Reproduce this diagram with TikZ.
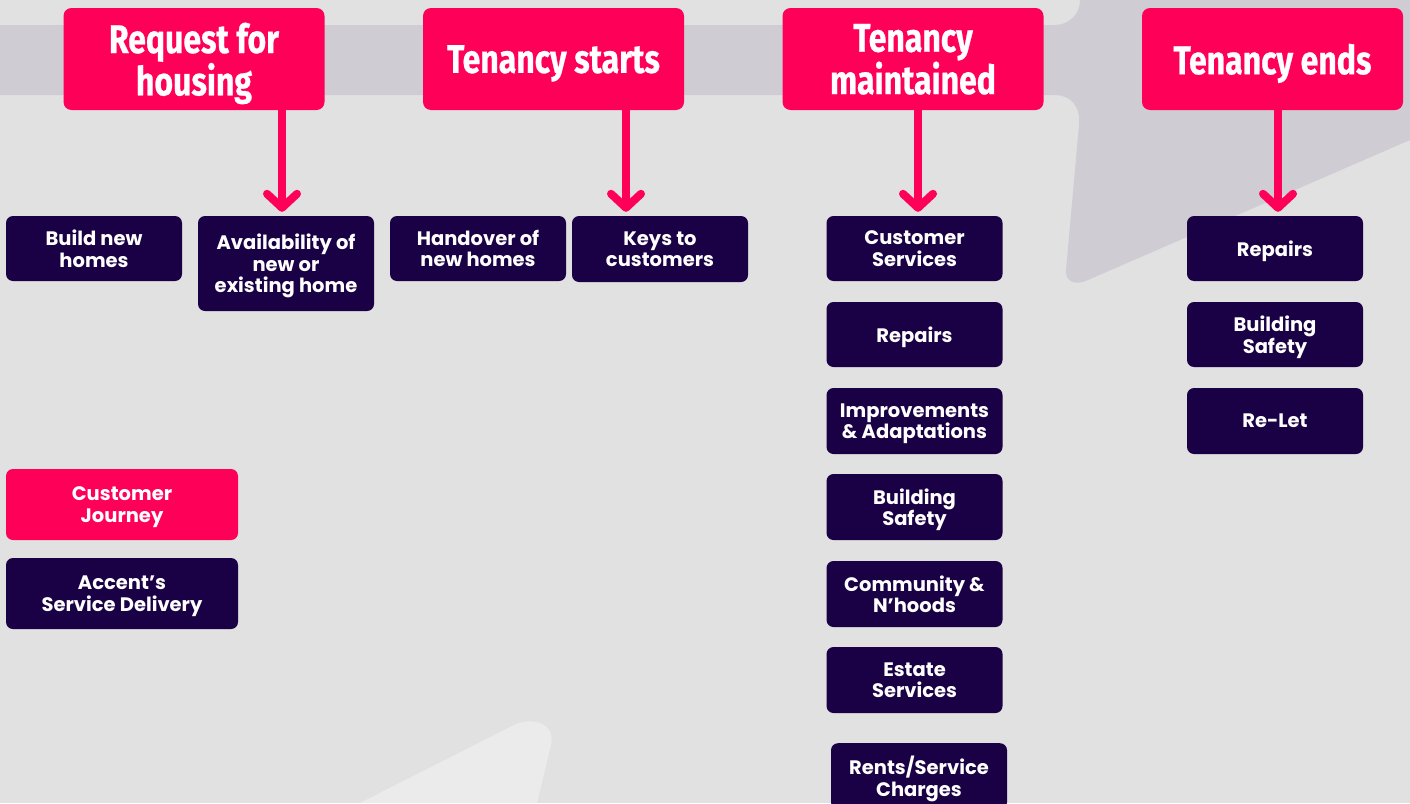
\documentclass[tikz,border=0pt]{standalone}
\usepackage{fontspec}
\usetikzlibrary{arrows.meta}
\newfontfamily\headfont[FakeStretch=0.8,FakeBold=0.6]{Fira Sans}
\newfontfamily\boxfont{Poppins}
\definecolor{bgmain}{HTML}{E1E1E1}
\definecolor{bgband}{HTML}{CFCDD3}
\definecolor{bglight}{HTML}{EBEBEB}
\definecolor{hotpink}{HTML}{FF0058}
\definecolor{navy}{HTML}{1A0044}
\tikzset{
  stagebox/.style={rectangle, rounded corners=8pt, fill=hotpink, text=white,
    minimum width=261pt, minimum height=102pt, inner sep=0pt, align=center,
    text depth=0pt,
    font=\headfont\bfseries\fontsize{40}{37}\selectfont},
  svcbox/.style={rectangle, rounded corners=7pt, fill=navy, text=white,
    minimum width=176pt, minimum height=65pt, inner sep=0pt, align=center,
    text depth=0pt,
    font=\boxfont\bfseries\fontsize{19.5}{21.5}\selectfont},
  keybox/.style={svcbox, minimum width=232pt, minimum height=71pt},
  flow/.style={draw=hotpink, line width=8pt, shorten >=4pt,
    -{Straight Barb[length=14pt, width=30pt, round]}},
}
\begin{document}
\begin{tikzpicture}[x=1pt, y=-1pt]
% canvas
\fill[bgmain] (0,0) rectangle (1410,803);
\path[use as bounding box] (0,0) rectangle (1410,803);
% grey band behind the stage headers, joined to the wedge on the right
\fill[bgband] (0,25) -- (1055,25) .. controls (1069,25) and (1080,14) .. (1080,0)
  -- (1410,0) -- (1410,140) -- (1088,280)
  .. controls (1076,286) and (1065,282) .. (1066,270)
  -- (1079,125) .. controls (1081,106) and (1070,95) .. (1055,95)
  -- (0,95) -- cycle;
% pale wedge at the bottom
\fill[bglight] (360,803) -- (512,726) .. controls (530,716) and (556,722) .. (551,745)
  -- (537,803) -- cycle;

% stage headers
\node[stagebox] (req)  at (194,59)    {Request for\\housing};
\node[stagebox] (tst)  at (553.5,59)  {Tenancy starts};
\node[stagebox] (tmn)  at (913,59)    {Tenancy\\maintained};
\node[stagebox] (tend) at (1272.5,59) {Tenancy ends};

% request for housing
\node[svcbox] (build) at (94,248.5) {Build new\\homes};
\node[svcbox, minimum height=95pt] (avail) at (286,263.5) {Availability of\\new or\\existing home};

% tenancy starts
\node[svcbox] (hand) at (478,248.5) {Handover of\\new homes};
\node[svcbox, minimum height=66pt] (keys) at (660,249) {Keys to\\customers};

% tenancy maintained
\node[svcbox] (cserv) at (914.5,248.5) {Customer\\Services};
\node[svcbox] (rep)   at (914.5,334.5) {Repairs};
\node[svcbox, minimum height=66pt] (impr)  at (914.5,421) {Improvements\\\& Adaptations};
\node[svcbox, minimum height=66pt] (bsafe) at (914.5,507) {Building\\Safety};
\node[svcbox, minimum height=66pt] (comm)  at (914.5,594) {Community \&\\N’hoods};
\node[svcbox, minimum height=66pt] (est)   at (914.5,680) {Estate\\Services};
\node[svcbox, minimum height=66pt, anchor=north] (rent) at (919,743) {Rents/Service\\Charges};

% tenancy ends
\node[svcbox] (rep2)   at (1275,248.5) {Repairs};
\node[svcbox] (bsafe2) at (1275,334.5) {Building\\Safety};
\node[svcbox, minimum height=66pt] (relet) at (1275,421) {Re-Let};

% key
\node[keybox, fill=hotpink] (journey) at (122,504.5) {Customer\\Journey};
\node[keybox] (delivery) at (122,593.5) {Accent’s\\Service Delivery};

% flow arrows
\draw[flow] (req.south -| 282,0)   -- (avail.north -| 282,0);
\draw[flow] (tst.south -| 626,0)   -- (keys.north -| 626,0);
\draw[flow] (tmn.south -| 918,0)   -- (cserv.north -| 918,0);
\draw[flow] (tend.south -| 1278,0) -- (rep2.north -| 1278,0);
\end{tikzpicture}
\end{document}
